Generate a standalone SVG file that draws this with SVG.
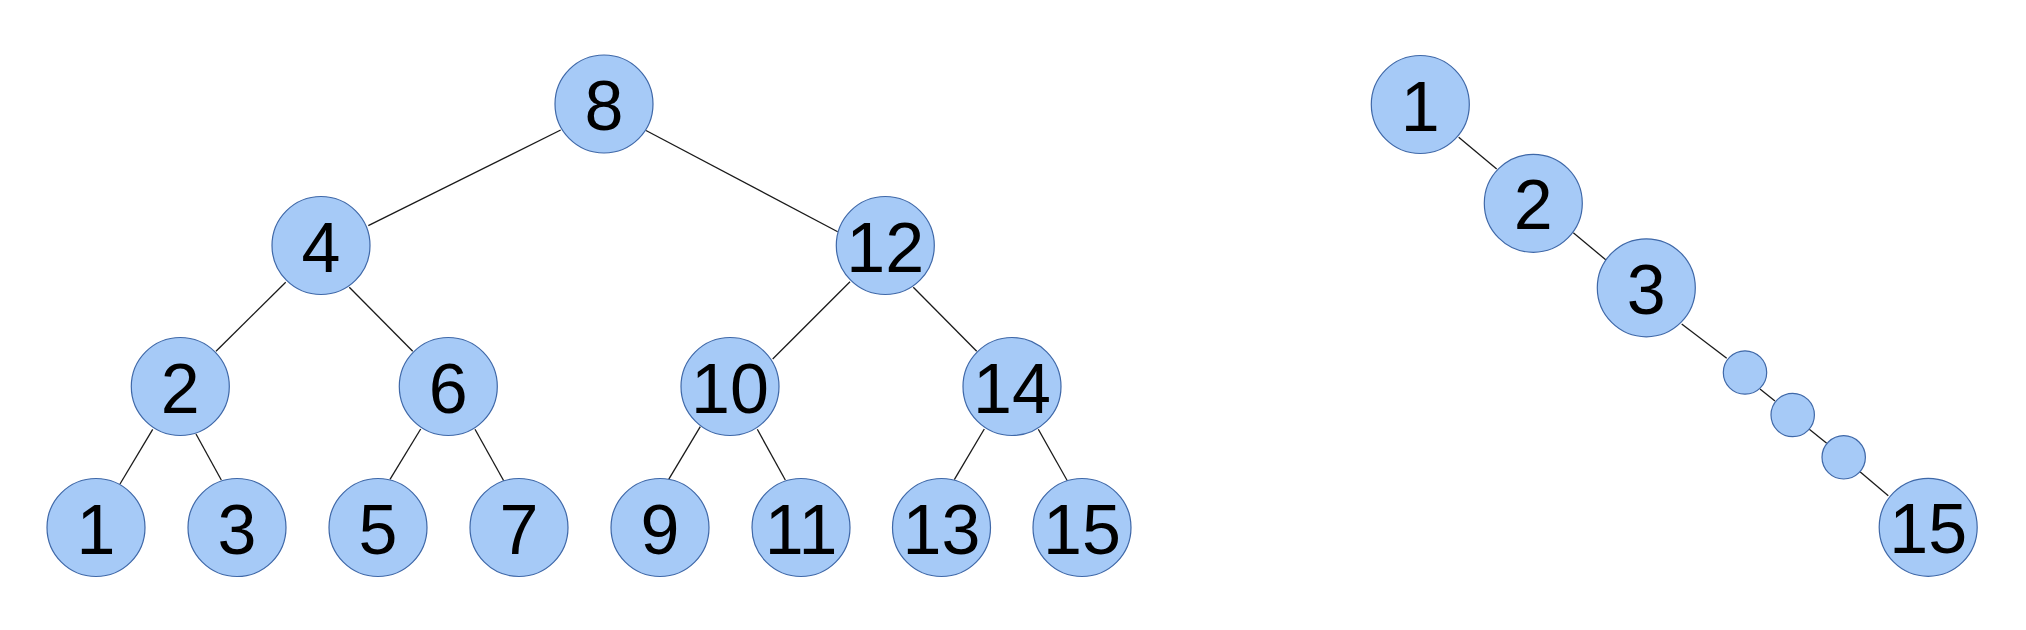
<svg xmlns="http://www.w3.org/2000/svg" width="2026" height="630" viewBox="0 0 2026 630">
<style>
.n{fill:#a6caf7;stroke:#3f68a8;stroke-width:1.2}
.t{font-family:"Liberation Sans",Arial,sans-serif;font-size:70px;fill:#000;text-anchor:middle}
.e line{stroke:#1a1a1a;stroke-width:1.3}
</style>
<rect width="2026" height="630" fill="#fff"/>
<g id="connectors" class="e">
<line x1="560.7" y1="130" x2="368.3" y2="225.7"/>
<line x1="646" y1="130.5" x2="837.7" y2="231.7"/>
<line x1="285.7" y1="282.3" x2="216" y2="351.3"/>
<line x1="349.3" y1="287.3" x2="412.7" y2="351.3"/>
<line x1="850" y1="281.7" x2="772.7" y2="359"/>
<line x1="913.3" y1="287.3" x2="976.7" y2="351.3"/>
<line x1="152.7" y1="429.3" x2="120" y2="484"/>
<line x1="196" y1="434" x2="221.3" y2="480"/>
<line x1="420.7" y1="429" x2="390" y2="479.3"/>
<line x1="475" y1="429.3" x2="503.7" y2="480.7"/>
<line x1="700.3" y1="426.7" x2="668.7" y2="479.3"/>
<line x1="757.3" y1="429.3" x2="785.3" y2="480"/>
<line x1="984.3" y1="429" x2="954.3" y2="479.7"/>
<line x1="1038.3" y1="429.3" x2="1067.3" y2="480.7"/>
<line x1="1458.7" y1="137.3" x2="1496.7" y2="169"/>
<line x1="1573.3" y1="232.7" x2="1606" y2="260"/>
<line x1="1681.7" y1="324" x2="1726.7" y2="358.3"/>
<line x1="1760" y1="389" x2="1775" y2="401"/>
<line x1="1809.3" y1="429.3" x2="1826.7" y2="443.3"/>
<line x1="1860" y1="471.7" x2="1888.3" y2="495.7"/>
</g>
<g id="n8"><circle class="n" cx="604" cy="104" r="49"/><text class="t" x="604" y="130">8</text></g>
<g id="n4"><circle class="n" cx="321" cy="245.5" r="49"/><text class="t" x="321" y="271.5">4</text></g>
<g id="n12"><circle class="n" cx="885.3" cy="245.5" r="49"/><text class="t" x="885.3" y="271.5">12</text></g>
<g id="n2"><circle class="n" cx="180.3" cy="386.5" r="49"/><text class="t" x="180.3" y="412.5">2</text></g>
<g id="n6"><circle class="n" cx="448.3" cy="386.5" r="49"/><text class="t" x="448.3" y="412.5">6</text></g>
<g id="n10"><circle class="n" cx="730" cy="386.5" r="49"/><text class="t" x="730" y="412.5">10</text></g>
<g id="n14"><circle class="n" cx="1012" cy="386.5" r="49"/><text class="t" x="1012" y="412.5">14</text></g>
<g id="n1"><circle class="n" cx="96" cy="527.5" r="49"/><text class="t" x="96" y="553.5">1</text></g>
<g id="n3"><circle class="n" cx="237" cy="527.5" r="49"/><text class="t" x="237" y="553.5">3</text></g>
<g id="n5"><circle class="n" cx="378" cy="527.5" r="49"/><text class="t" x="378" y="553.5">5</text></g>
<g id="n7"><circle class="n" cx="519" cy="527.5" r="49"/><text class="t" x="519" y="553.5">7</text></g>
<g id="n9"><circle class="n" cx="660" cy="527.5" r="49"/><text class="t" x="660" y="553.5">9</text></g>
<g id="n11"><circle class="n" cx="801" cy="527.5" r="49"/><text class="t" x="801" y="553.5">11</text></g>
<g id="n13"><circle class="n" cx="941.5" cy="527.5" r="49"/><text class="t" x="941.5" y="553.5">13</text></g>
<g id="n15"><circle class="n" cx="1082" cy="527.5" r="49"/><text class="t" x="1082" y="553.5">15</text></g>
<g id="r1"><circle class="n" cx="1420.3" cy="104.5" r="49"/><text class="t" x="1420.3" y="130.5">1</text></g>
<g id="r2"><circle class="n" cx="1533.3" cy="203.3" r="49"/><text class="t" x="1533.3" y="229.3">2</text></g>
<g id="r3"><circle class="n" cx="1646.3" cy="287.8" r="49"/><text class="t" x="1646.3" y="313.8">3</text></g>
<g id="rs1"><circle class="n" cx="1745" cy="372.5" r="21.7"/></g>
<g id="rs2"><circle class="n" cx="1792.7" cy="415" r="21.7"/></g>
<g id="rs3"><circle class="n" cx="1843.7" cy="457.3" r="21.7"/></g>
<g id="r15"><circle class="n" cx="1928.2" cy="527.3" r="49"/><text class="t" x="1928.2" y="553.3">15</text></g>
</svg>
